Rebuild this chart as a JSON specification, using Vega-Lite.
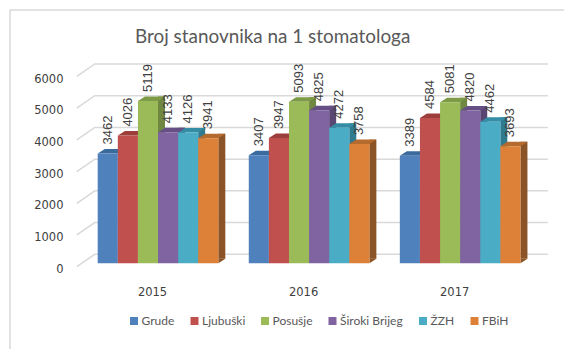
{
"$schema":"https://vega.github.io/schema/vega-lite/v6.json",
"width":560,"height":345,
"autosize":"none",
"padding":{"left":10,"top":10,"right":0,"bottom":0},
"background":"white",
"config":{"view":{"stroke":"#d9d9d9","strokeWidth":1.5},
"axisX":{"title":null,"domain":false,"ticks":false,"labelAngle":0,"labelFont":"DejaVu Sans","labelFontSize":11.5,"labelColor":"#404040","labelPadding":3,"labelOffset":-5.5,"offset":-72,"grid":false},
"axisY":{"title":null,"domain":false,"ticks":false,"grid":false,"tickCount":7,"format":"d","labelFont":"DejaVu Sans","labelFontSize":11.5,"labelColor":"#404040","labelOffset":6,"labelPadding":0,"offset":-53}},
"title":{"text":"Broj stanovnika na 1 stomatologa","font":"Lato","fontSize":18.9,"fontWeight":"normal","color":"#595959","anchor":"start","frame":"group","dx":125,"offset":-37},
"datasets":{
"bars":[
{"year":"2015","series":"Grude","value":3462},{"year":"2015","series":"Ljubuški","value":4026},{"year":"2015","series":"Posušje","value":5119},{"year":"2015","series":"Široki Brijeg","value":4133},{"year":"2015","series":"ŽZH","value":4126},{"year":"2015","series":"FBiH","value":3941},
{"year":"2016","series":"Grude","value":3407},{"year":"2016","series":"Ljubuški","value":3947},{"year":"2016","series":"Posušje","value":5093},{"year":"2016","series":"Široki Brijeg","value":4825},{"year":"2016","series":"ŽZH","value":4272},{"year":"2016","series":"FBiH","value":3758},
{"year":"2017","series":"Grude","value":3389},{"year":"2017","series":"Ljubuški","value":4584},{"year":"2017","series":"Posušje","value":5081},{"year":"2017","series":"Široki Brijeg","value":4820},{"year":"2017","series":"ŽZH","value":4462},{"year":"2017","series":"FBiH","value":3693}],
"grid":[{"tick":0},{"tick":1000},{"tick":2000},{"tick":3000},{"tick":4000},{"tick":5000},{"tick":6000}]
},
"resolve":{"scale":{"color":"independent","xOffset":"independent"}},
"layer":[
{"data":{"name":"grid"},
 "mark":{"type":"point","shape":"M-232.3,3.4L-214.3,-9L238.7,-9","size":4,"filled":false,"fill":"transparent","stroke":"#d9d9d9","strokeWidth":1.5,"opacity":1},
 "encoding":{
  "x":{"datum":"2016","type":"nominal","scale":{"type":"band","domain":["2015","2016","2017"],"range":[72.5,525.7],"paddingInner":0,"paddingOuter":0}},
  "y":{"field":"tick","type":"quantitative","scale":{"domain":[0,6000],"range":[253.3,63]}}
 }},
{"data":{"name":"bars"},
 "mark":{"type":"point","shape":"M10.05,0L17.05,-4.5L10.05,-4.5Z","size":4,"filled":true,"opacity":1,"strokeWidth":0},
 "encoding":{
  "x":{"field":"year","type":"nominal"},
  "xOffset":{"field":"series","type":"nominal","sort":null,"scale":{"type":"band","paddingOuter":0.756,"paddingInner":0}},
  "y":{"datum":0,"type":"quantitative"},
  "color":{"field":"series","type":"nominal","sort":null,"legend":null,"scale":{"domain":["Grude","Ljubuški","Posušje","Široki Brijeg","ŽZH","FBiH"],"range":["#335A88","#8B3836","#6F8741","#5A4673","#2F7A8E","#8B5426"]}}
 }},
{"data":{"name":"bars"},
 "mark":{"type":"bar","width":7,"yOffset":-4.5,"y2Offset":-4.5},
 "encoding":{
  "x":{"field":"year","type":"nominal"},
  "xOffset":{"field":"series","type":"nominal","sort":null,"scale":{"type":"band","range":[13.55,164.55],"paddingOuter":0.756,"paddingInner":0}},
  "y":{"field":"value","type":"quantitative"},
  "y2":{"datum":0},
  "color":{"field":"series","type":"nominal","sort":null,"legend":null,"scale":{"domain":["Grude","Ljubuški","Posušje","Široki Brijeg","ŽZH","FBiH"],"range":["#335A88","#8B3836","#6F8741","#5A4673","#2F7A8E","#8B5426"]}}
 }},
{"data":{"name":"bars"},
 "mark":{"type":"point","shape":"M-10.05,0L10.05,0L17.05,-4.5L-3,-4.5Z","size":4,"filled":true,"opacity":1,"strokeWidth":0},
 "encoding":{
  "x":{"field":"year","type":"nominal"},
  "xOffset":{"field":"series","type":"nominal","sort":null,"scale":{"type":"band","paddingOuter":0.756,"paddingInner":0}},
  "y":{"field":"value","type":"quantitative"},
  "color":{"field":"series","type":"nominal","sort":null,"legend":null,"scale":{"domain":["Grude","Ljubuški","Posušje","Široki Brijeg","ŽZH","FBiH"],"range":["#3B6A9E","#9C3E3B","#7D9A46","#664F85","#348DA5","#B56A2E"]}}
 }},
{"data":{"name":"bars"},
 "mark":{"type":"bar"},
 "encoding":{
  "x":{"field":"year","type":"nominal"},
  "xOffset":{"field":"series","type":"nominal","sort":null,"scale":{"type":"band","paddingOuter":0.756,"paddingInner":0}},
  "y":{"field":"value","type":"quantitative"},
  "color":{"field":"series","type":"nominal","sort":null,
   "scale":{"domain":["Grude","Ljubuški","Posušje","Široki Brijeg","ŽZH","FBiH"],"range":["#4F81BD","#C0504D","#9BBB59","#8064A2","#4BACC6","#DD8139"]},
   "legend":{"title":null,"orient":"none","legendX":118,"legendY":305,"direction":"horizontal","columns":6,"symbolType":"square","symbolSize":64,"symbolStrokeWidth":0,"labelFont":"Lato","labelFontSize":12,"labelColor":"#595959","columnPadding":13.5,"labelOffset":1.5}}
 }},
{"data":{"name":"bars"},
 "mark":{"type":"text","angle":270,"align":"left","baseline":"middle","yOffset":-9,"font":"Liberation Sans","fontSize":13,"color":"#404040"},
 "encoding":{
  "x":{"field":"year","type":"nominal"},
  "xOffset":{"field":"series","type":"nominal","sort":null,"scale":{"type":"band","paddingOuter":0.756,"paddingInner":0}},
  "y":{"field":"value","type":"quantitative"},
  "text":{"field":"value","type":"quantitative","format":"d"}
 }}
]
}
